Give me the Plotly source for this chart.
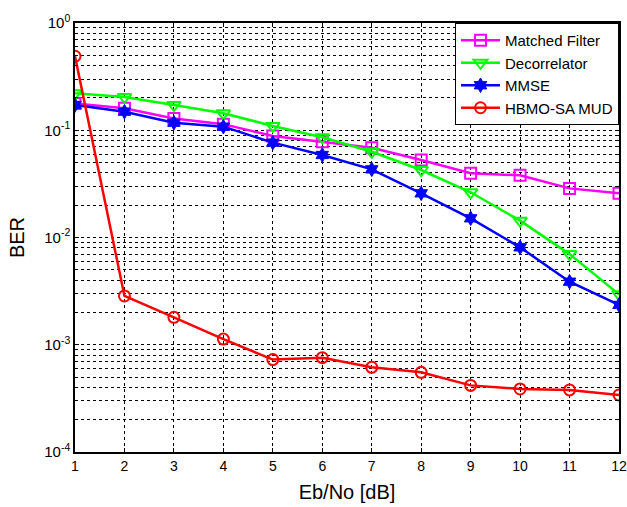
import plotly.graph_objects as go

ebno = [1, 2, 3, 4, 5, 6, 7, 8, 9, 10, 11, 12]
matched_filter = [0.178, 0.160, 0.129, 0.114, 0.0884, 0.0782, 0.0688, 0.0528, 0.0397, 0.038, 0.0287, 0.0258]
decorrelator = [0.221, 0.204, 0.172, 0.144, 0.1096, 0.086, 0.063, 0.0426, 0.0264, 0.01435, 0.0070, 0.00295]
mmse = [0.172, 0.149, 0.1175, 0.108, 0.0766, 0.0588, 0.0432, 0.0258, 0.0151, 0.0081, 0.00387, 0.00235]
hbmo = [0.49, 0.00285, 0.0018, 0.00113, 0.000727, 0.000758, 0.000616, 0.000553, 0.000418, 0.000387, 0.000379, 0.00034]

y_tickvals = [1e-4, 1e-3, 1e-2, 1e-1, 1]
y_ticktext = ["10<sup>-4</sup>", "10<sup>-3</sup>", "10<sup>-2</sup>", "10<sup>-1</sup>", "10<sup>0</sup>"]

fig = go.Figure()
series = [
    ("Matched Filter", matched_filter, "#FF00FF", "square-open", 11, 2),
    ("Decorrelator", decorrelator, "#00FF00", "triangle-down-open", 12, 2),
    ("MMSE", mmse, "#0000FF", "hexagram", 11, 1),
    ("HBMO-SA MUD", hbmo, "#FF0000", "circle-open", 11, 2),
]
for name, vals, col, sym, sz, lw in series:
    fig.add_trace(go.Scatter(
        x=ebno, y=vals, name=name, mode="lines+markers",
        line=dict(color=col, width=2.5),
        marker=dict(symbol=sym, size=sz, color=col, line=dict(color=col, width=lw)),
    ))

font = "Liberation Sans, Arial, Helvetica, sans-serif"
fig.update_layout(
    width=627, height=507,
    margin=dict(l=75, r=8, t=23, b=55),
    paper_bgcolor="white", plot_bgcolor="white",
    font=dict(family=font, size=14, color="black"),
    showlegend=True,
    legend=dict(
        x=1, y=1, xanchor="right", yanchor="top",
        bgcolor="white", bordercolor="black", borderwidth=1,
        font=dict(size=15, family=font),
        tracegroupgap=0, itemwidth=39,
    ),
    xaxis=dict(
        range=[1, 12], tickmode="array", tickvals=ebno,
        showline=True, linecolor="black", linewidth=1.5, mirror="allticks",
        ticks="inside", ticklen=4, tickcolor="black",
        showgrid=True, gridcolor="black", gridwidth=1, griddash="3px,3px",
        zeroline=False, automargin=False,
        title=dict(text="Eb/No [dB]", font=dict(size=20), standoff=12),
        tickfont=dict(size=14),
    ),
    yaxis=dict(
        type="log", range=[-4, 0],
        tickmode="array", tickvals=y_tickvals, ticktext=y_ticktext,
        showline=True, linecolor="black", linewidth=1.5, mirror="allticks",
        ticks="inside", ticklen=4, tickcolor="black",
        showgrid=True, gridcolor="black", gridwidth=1, griddash="3px,3px",
        minor=dict(dtick="D1", showgrid=True, gridcolor="black", gridwidth=1,
                   griddash="3px,3px", ticks="inside", ticklen=3, tickcolor="black"),
        zeroline=False, automargin=False,
        title=dict(text="BER", font=dict(size=20), standoff=14),
        tickfont=dict(size=15),
    ),
)

fig.write_html("out.html")
